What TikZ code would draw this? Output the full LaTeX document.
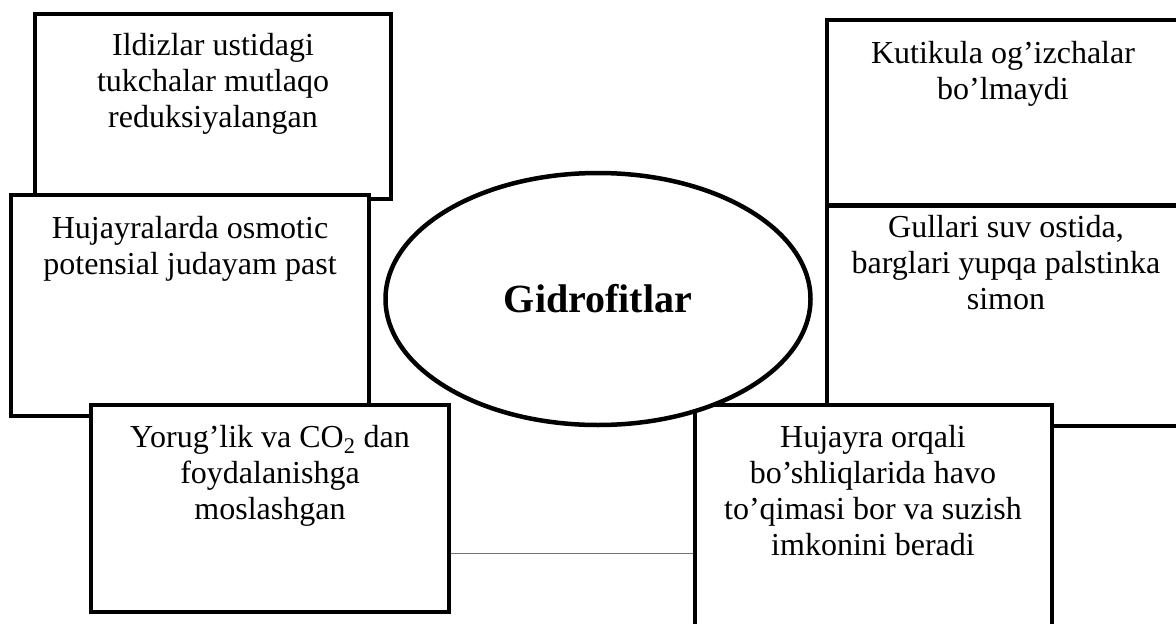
\documentclass[tikz,border=0pt]{standalone}
\usepackage{fontspec}
\setmainfont{Liberation Serif}
\usetikzlibrary{shapes.geometric}
\begin{document}
\begin{tikzpicture}[x=1pt,y=-1pt,
  box/.style={draw=black, fill=white, line width=4.5pt, rectangle, inner sep=0pt, outer sep=0pt},
  txt/.style={anchor=north, align=center, inner sep=0pt, font=\fontsize{32}{36}\selectfont},
  oval/.style={draw=black, fill=white, line width=4.5pt, ellipse, inner sep=0pt, outer sep=0pt,
    minimum width=425pt, minimum height=252pt, font=\bfseries\fontsize{40}{46}\selectfont},
  link/.style={draw=black!55, line width=1pt}]
\useasboundingbox (0,0) rectangle (1176,624);
\clip (0,0) rectangle (1176,624);
% left column
\node[box, minimum width=356pt, minimum height=185pt] (tl) at (213,106.5) {};
\node[box, minimum width=358pt, minimum height=221pt] (l) at (190,305.5) {};
\node[box, minimum width=358pt, minimum height=207pt] (bl) at (270,508.5) {};
% right column
\node[box, minimum width=358pt, minimum height=220pt] (g) at (1006,316) {};
\node[box, minimum width=353pt, minimum height=185pt] (tr) at (1003.5,112.5) {};
\node[box, minimum width=357pt, minimum height=235pt] (br) at (873.5,522.5) {};
% centre
\node[oval] (c) at (598,299) {Gidrofitlar};
% link
\coordinate (lk) at (0,553);
\draw[link] ([xshift=2.2pt]bl.east |- lk) -- ([xshift=-2.2pt]br.west |- lk);
% texts
\node[txt] (tlt) at (213,33) {Ildizlar ustidagi\\tukchalar mutlaqo\\reduksiyalangan};
\node[txt] (trt) at (1003,41) {Kutikula og’izchalar\\bo’lmaydi};
\node[txt] (lt) at (190,216) {Hujayralarda osmotic\\potensial judayam past};
\node[txt] (gt) at (1006,215) {Gullari suv ostida,\\barglari yupqa palstinka\\simon};
\node[txt] (blt) at (270,425) {Yorug’lik va CO\textsubscript{2} dan\\foydalanishga\\moslashgan};
\node[txt] (brt) at (873,425) {Hujayra orqali\\bo’shliqlarida havo\\to’qimasi bor va suzish\\imkonini beradi};
\end{tikzpicture}
\end{document}
